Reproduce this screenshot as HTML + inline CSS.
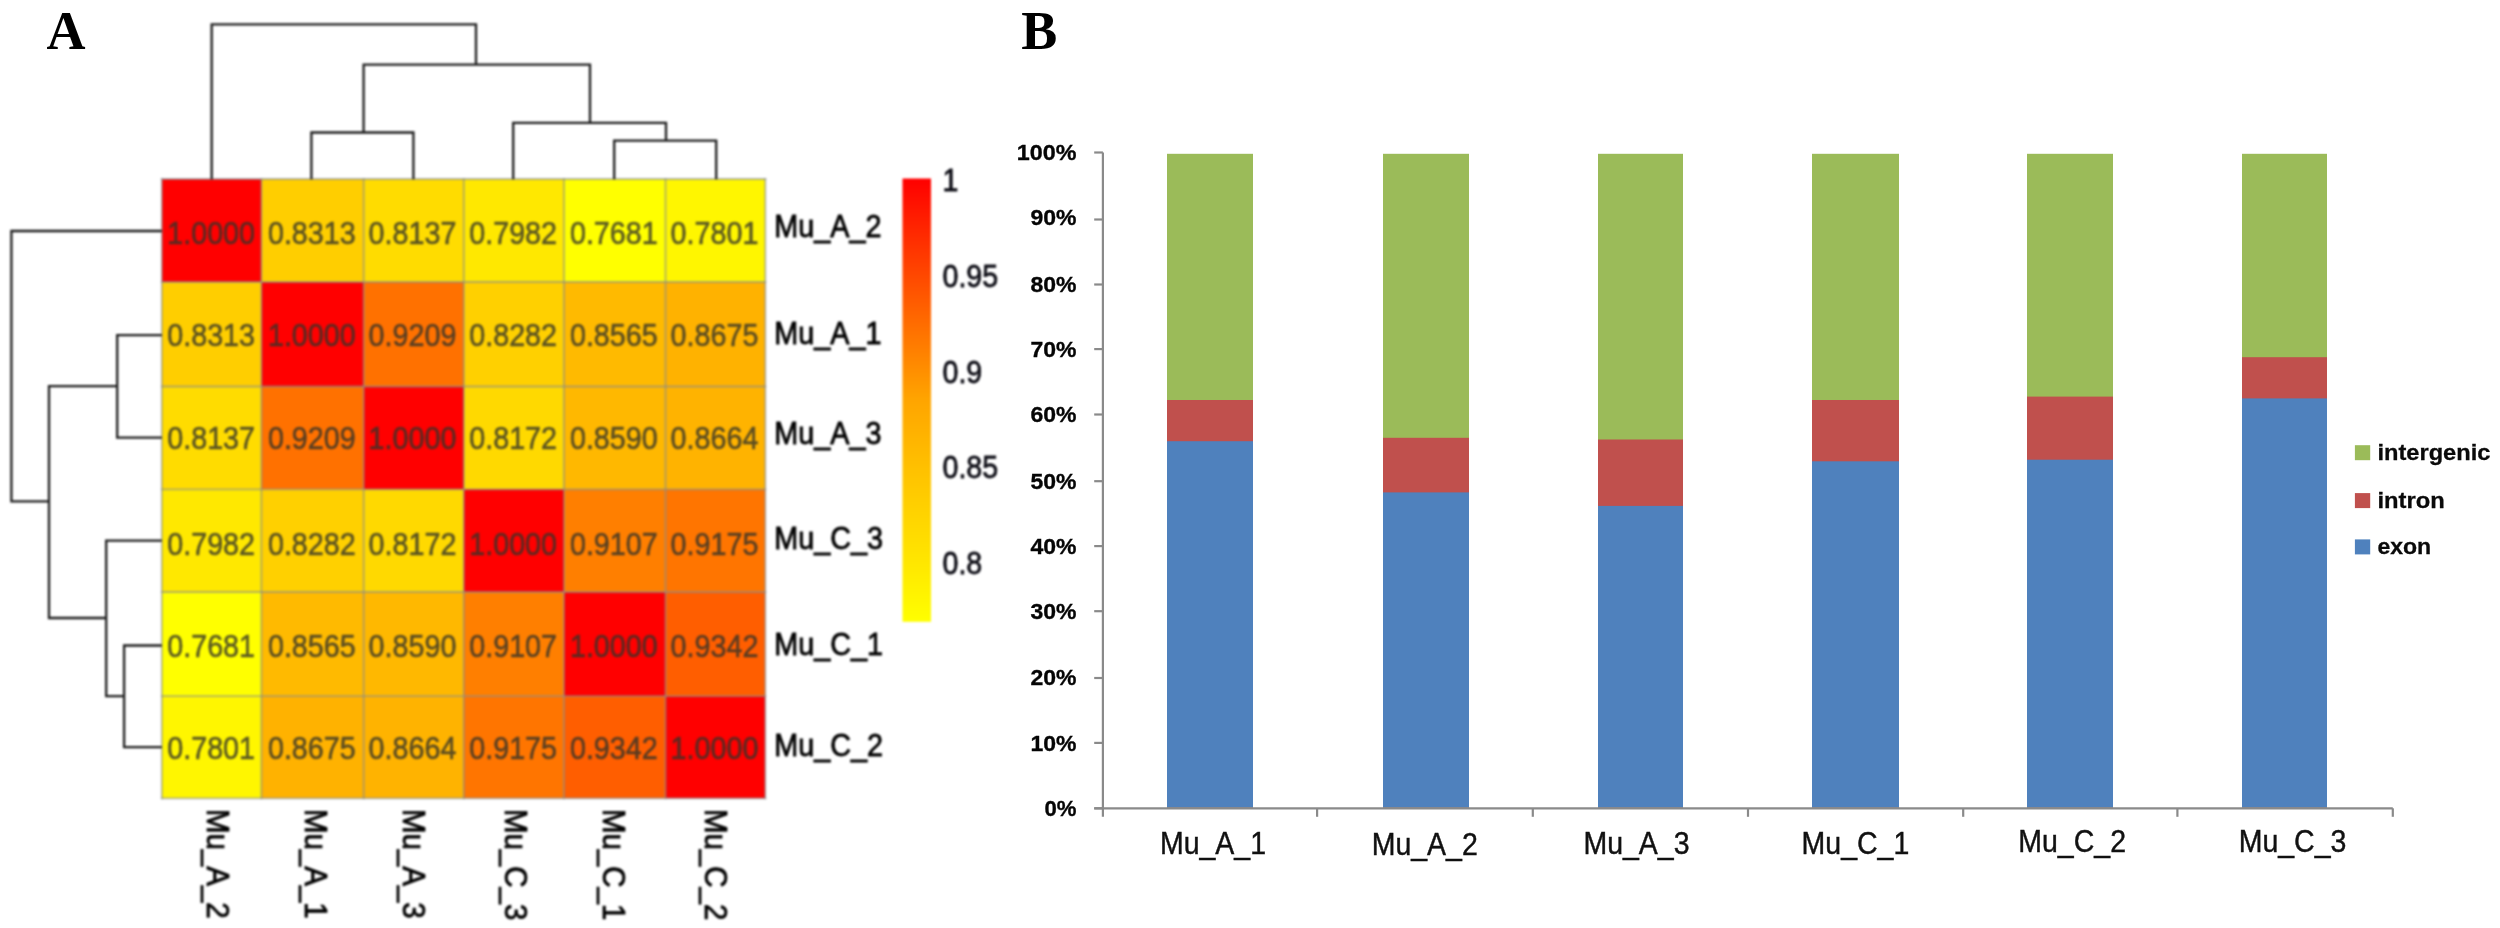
<!DOCTYPE html>
<html lang="en">
<head>
<meta charset="utf-8">
<title>Figure</title>
<style>
html,body{margin:0;padding:0;background:#fff;}
body{width:2500px;height:928px;overflow:hidden;}
svg{display:block;}
</style>
</head>
<body>
<svg width="2500" height="928" viewBox="0 0 2500 928">
<defs><filter id="soft" x="0" y="0" width="100%" height="100%" filterUnits="userSpaceOnUse" color-interpolation-filters="sRGB"><feGaussianBlur stdDeviation="0.8"/></filter><filter id="softB" x="0" y="0" width="100%" height="100%" filterUnits="userSpaceOnUse" color-interpolation-filters="sRGB"><feGaussianBlur stdDeviation="0.5"/></filter></defs>
<g filter="url(#soft)">
<rect x="0" y="0" width="2500" height="928" fill="#ffffff"/>
<g id="heatmap">
<rect x="161.80" y="179.00" width="100.20" height="103.60" fill="#ff0000"/>
<rect x="261.40" y="179.00" width="102.90" height="103.60" fill="#ffce00"/>
<rect x="363.70" y="179.00" width="100.70" height="103.60" fill="#ffdc00"/>
<rect x="463.80" y="179.00" width="100.80" height="103.60" fill="#ffe800"/>
<rect x="564.00" y="179.00" width="102.10" height="103.60" fill="#ffff00"/>
<rect x="665.50" y="179.00" width="99.80" height="103.60" fill="#fff600"/>
<rect x="161.80" y="282.00" width="100.20" height="105.10" fill="#ffce00"/>
<rect x="261.40" y="282.00" width="102.90" height="105.10" fill="#ff0000"/>
<rect x="363.70" y="282.00" width="100.70" height="105.10" fill="#ff7100"/>
<rect x="463.80" y="282.00" width="100.80" height="105.10" fill="#ffd000"/>
<rect x="564.00" y="282.00" width="102.10" height="105.10" fill="#ffba00"/>
<rect x="665.50" y="282.00" width="99.80" height="105.10" fill="#ffb200"/>
<rect x="161.80" y="386.50" width="100.20" height="103.40" fill="#ffdc00"/>
<rect x="261.40" y="386.50" width="102.90" height="103.40" fill="#ff7100"/>
<rect x="363.70" y="386.50" width="100.70" height="103.40" fill="#ff0000"/>
<rect x="463.80" y="386.50" width="100.80" height="103.40" fill="#ffd900"/>
<rect x="564.00" y="386.50" width="102.10" height="103.40" fill="#ffb800"/>
<rect x="665.50" y="386.50" width="99.80" height="103.40" fill="#ffb300"/>
<rect x="161.80" y="489.30" width="100.20" height="103.30" fill="#ffe800"/>
<rect x="261.40" y="489.30" width="102.90" height="103.30" fill="#ffd000"/>
<rect x="363.70" y="489.30" width="100.70" height="103.30" fill="#ffd900"/>
<rect x="463.80" y="489.30" width="100.80" height="103.30" fill="#ff0000"/>
<rect x="564.00" y="489.30" width="102.10" height="103.30" fill="#ff7f00"/>
<rect x="665.50" y="489.30" width="99.80" height="103.30" fill="#ff7500"/>
<rect x="161.80" y="592.00" width="100.20" height="104.80" fill="#ffff00"/>
<rect x="261.40" y="592.00" width="102.90" height="104.80" fill="#ffba00"/>
<rect x="363.70" y="592.00" width="100.70" height="104.80" fill="#ffb800"/>
<rect x="463.80" y="592.00" width="100.80" height="104.80" fill="#ff7f00"/>
<rect x="564.00" y="592.00" width="102.10" height="104.80" fill="#ff0000"/>
<rect x="665.50" y="592.00" width="99.80" height="104.80" fill="#ff5e00"/>
<rect x="161.80" y="696.20" width="100.20" height="102.10" fill="#fff600"/>
<rect x="261.40" y="696.20" width="102.90" height="102.10" fill="#ffb200"/>
<rect x="363.70" y="696.20" width="100.70" height="102.10" fill="#ffb300"/>
<rect x="463.80" y="696.20" width="100.80" height="102.10" fill="#ff7500"/>
<rect x="564.00" y="696.20" width="102.10" height="102.10" fill="#ff5e00"/>
<rect x="665.50" y="696.20" width="99.80" height="102.10" fill="#ff0000"/>
<g stroke="#878c90" stroke-opacity="0.62" stroke-width="1.8" fill="none">
<path d="M161.80 178.10 V799.20"/>
<path d="M261.40 178.10 V799.20"/>
<path d="M363.70 178.10 V799.20"/>
<path d="M463.80 178.10 V799.20"/>
<path d="M564.00 178.10 V799.20"/>
<path d="M665.50 178.10 V799.20"/>
<path d="M765.30 178.10 V799.20"/>
<path d="M160.90 179.00 H766.20"/>
<path d="M160.90 282.00 H766.20"/>
<path d="M160.90 386.50 H766.20"/>
<path d="M160.90 489.30 H766.20"/>
<path d="M160.90 592.00 H766.20"/>
<path d="M160.90 696.20 H766.20"/>
<path d="M160.90 798.30 H766.20"/>
</g>
</g>
<g id="cellnums" font-family="'Liberation Sans', Arial, sans-serif" font-size="28.7" fill="#34342a" stroke="#34342a" stroke-width="0.6" opacity="0.8" text-anchor="middle">
<text transform="translate(211.13,243.91) scale(1,1.090)">1.0000</text>
<text transform="translate(311.80,243.91) scale(1,1.090)">0.8313</text>
<text transform="translate(412.47,243.91) scale(1,1.090)">0.8137</text>
<text transform="translate(513.13,243.91) scale(1,1.090)">0.7982</text>
<text transform="translate(613.80,243.91) scale(1,1.090)">0.7681</text>
<text transform="translate(714.47,243.91) scale(1,1.090)">0.7801</text>
<text transform="translate(211.13,346.02) scale(1,1.090)">0.8313</text>
<text transform="translate(311.80,346.02) scale(1,1.090)">1.0000</text>
<text transform="translate(412.47,346.02) scale(1,1.090)">0.9209</text>
<text transform="translate(513.13,346.02) scale(1,1.090)">0.8282</text>
<text transform="translate(613.80,346.02) scale(1,1.090)">0.8565</text>
<text transform="translate(714.47,346.02) scale(1,1.090)">0.8675</text>
<text transform="translate(211.13,449.14) scale(1,1.090)">0.8137</text>
<text transform="translate(311.80,449.14) scale(1,1.090)">0.9209</text>
<text transform="translate(412.47,449.14) scale(1,1.090)">1.0000</text>
<text transform="translate(513.13,449.14) scale(1,1.090)">0.8172</text>
<text transform="translate(613.80,449.14) scale(1,1.090)">0.8590</text>
<text transform="translate(714.47,449.14) scale(1,1.090)">0.8664</text>
<text transform="translate(211.13,554.56) scale(1,1.090)">0.7982</text>
<text transform="translate(311.80,554.56) scale(1,1.090)">0.8282</text>
<text transform="translate(412.47,554.56) scale(1,1.090)">0.8172</text>
<text transform="translate(513.13,554.56) scale(1,1.090)">1.0000</text>
<text transform="translate(613.80,554.56) scale(1,1.090)">0.9107</text>
<text transform="translate(714.47,554.56) scale(1,1.090)">0.9175</text>
<text transform="translate(211.13,656.67) scale(1,1.090)">0.7681</text>
<text transform="translate(311.80,656.67) scale(1,1.090)">0.8565</text>
<text transform="translate(412.47,656.67) scale(1,1.090)">0.8590</text>
<text transform="translate(513.13,656.67) scale(1,1.090)">0.9107</text>
<text transform="translate(613.80,656.67) scale(1,1.090)">1.0000</text>
<text transform="translate(714.47,656.67) scale(1,1.090)">0.9342</text>
<text transform="translate(211.13,759.39) scale(1,1.090)">0.7801</text>
<text transform="translate(311.80,759.39) scale(1,1.090)">0.8675</text>
<text transform="translate(412.47,759.39) scale(1,1.090)">0.8664</text>
<text transform="translate(513.13,759.39) scale(1,1.090)">0.9175</text>
<text transform="translate(613.80,759.39) scale(1,1.090)">0.9342</text>
<text transform="translate(714.47,759.39) scale(1,1.090)">1.0000</text>
</g>
<g id="rowlabels" font-family="'Liberation Sans', Arial, sans-serif" font-size="28.8" fill="#000" stroke="#000" stroke-width="0.75">
<text transform="translate(774.3,237.40) scale(1,1.090)">Mu_A_2</text>
<text transform="translate(774.3,344.30) scale(1,1.090)">Mu_A_1</text>
<text transform="translate(774.3,444.10) scale(1,1.090)">Mu_A_3</text>
<text transform="translate(774.3,548.80) scale(1,1.090)">Mu_C_3</text>
<text transform="translate(774.3,655.00) scale(1,1.090)">Mu_C_1</text>
<text transform="translate(774.3,755.50) scale(1,1.090)">Mu_C_2</text>
</g>
<g id="collabels" font-family="'Liberation Sans', Arial, sans-serif" font-size="28.8" fill="#000" stroke="#000" stroke-width="0.75">
<text transform="translate(206.50,808.9) rotate(90) scale(1.024,1.06)">Mu_A_2</text>
<text transform="translate(305.00,808.9) rotate(90) scale(1.024,1.06)">Mu_A_1</text>
<text transform="translate(402.80,808.9) rotate(90) scale(1.024,1.06)">Mu_A_3</text>
<text transform="translate(505.00,808.9) rotate(90) scale(1.024,1.06)">Mu_C_3</text>
<text transform="translate(602.70,808.9) rotate(90) scale(1.024,1.06)">Mu_C_1</text>
<text transform="translate(704.90,808.9) rotate(90) scale(1.024,1.06)">Mu_C_2</text>
</g>
<g id="dendro" fill="none" stroke="#1c1c1c" stroke-width="2.3" stroke-linejoin="miter">
<path d="M211.7 179.2 V24.3 H476 V64.6"/>
<path d="M363.6 132.5 V64.6 H590 V122.8"/>
<path d="M311.4 179.2 V132.5 H413.4 V179.2"/>
<path d="M513.2 179.2 V122.8 H666 V140.6"/>
<path d="M614.2 179.2 V140.6 H716.2 V179.2"/>
<path d="M161.8 231 H11.4 V501.4 H49"/>
<path d="M117.2 386.2 H49 V618 H106.2"/>
<path d="M161.8 335.2 H117.2 V437.6 H161.8"/>
<path d="M161.8 540.7 H106.2 V696.2 H124.1"/>
<path d="M161.8 645.5 H124.1 V747.2 H161.8"/>
</g>
<defs><linearGradient id="cb" x1="0" y1="0" x2="0" y2="1"><stop offset="0" stop-color="#ff0000"/><stop offset="0.5" stop-color="#ffa500"/><stop offset="1" stop-color="#ffff00"/></linearGradient></defs>
<rect x="902.5" y="178.5" width="28.5" height="443.3" fill="url(#cb)"/>
<g id="cblabels" font-family="'Liberation Sans', Arial, sans-serif" font-size="28.6" fill="#0c0c14" stroke="#0c0c14" stroke-width="0.7">
<text transform="translate(942.5,191.3) scale(1,1.090)">1</text>
<text transform="translate(942.5,286.6) scale(1,1.090)">0.95</text>
<text transform="translate(942.5,382.5) scale(1,1.090)">0.9</text>
<text transform="translate(942.5,478.0) scale(1,1.090)">0.85</text>
<text transform="translate(942.5,574.2) scale(1,1.090)">0.8</text>
</g>
</g><g filter="url(#softB)">
<g font-family="'Liberation Serif', 'Times New Roman', serif" font-weight="bold" font-size="54" fill="#000">
<text x="46.5" y="49.4">A</text>
<text x="1021.3" y="49.4">B</text>
</g>
<g id="bars">
<rect x="1167.0" y="153.8" width="86.0" height="653.8" fill="#9bbb59"/>
<rect x="1167.0" y="400.0" width="86.0" height="407.6" fill="#c0504d"/>
<rect x="1167.0" y="441.2" width="86.0" height="366.4" fill="#4f81bd"/>
<rect x="1383.0" y="153.8" width="86.0" height="653.8" fill="#9bbb59"/>
<rect x="1383.0" y="437.8" width="86.0" height="369.8" fill="#c0504d"/>
<rect x="1383.0" y="492.4" width="86.0" height="315.2" fill="#4f81bd"/>
<rect x="1598.0" y="153.8" width="85.0" height="653.8" fill="#9bbb59"/>
<rect x="1598.0" y="439.5" width="85.0" height="368.1" fill="#c0504d"/>
<rect x="1598.0" y="505.9" width="85.0" height="301.7" fill="#4f81bd"/>
<rect x="1812.0" y="153.8" width="87.0" height="653.8" fill="#9bbb59"/>
<rect x="1812.0" y="400.0" width="87.0" height="407.6" fill="#c0504d"/>
<rect x="1812.0" y="461.3" width="87.0" height="346.3" fill="#4f81bd"/>
<rect x="2027.0" y="153.8" width="86.0" height="653.8" fill="#9bbb59"/>
<rect x="2027.0" y="396.6" width="86.0" height="411.0" fill="#c0504d"/>
<rect x="2027.0" y="459.7" width="86.0" height="347.9" fill="#4f81bd"/>
<rect x="2242.0" y="153.8" width="85.0" height="653.8" fill="#9bbb59"/>
<rect x="2242.0" y="357.2" width="85.0" height="450.4" fill="#c0504d"/>
<rect x="2242.0" y="398.4" width="85.0" height="409.2" fill="#4f81bd"/>
</g>
<g id="axes" stroke="#8a8a8a" stroke-width="2.2" fill="none">
<path d="M1102.9 152.5 V816.8"/>
<path d="M1094.2 808.3 H2392.8"/>
<path d="M1094.2 808.3 H1102.9"/>
<path d="M1094.2 742.9 H1102.9"/>
<path d="M1094.2 678.0 H1102.9"/>
<path d="M1094.2 611.2 H1102.9"/>
<path d="M1094.2 546.1 H1102.9"/>
<path d="M1094.2 481.2 H1102.9"/>
<path d="M1094.2 414.5 H1102.9"/>
<path d="M1094.2 349.1 H1102.9"/>
<path d="M1094.2 284.5 H1102.9"/>
<path d="M1094.2 219.5 H1102.9"/>
<path d="M1094.2 152.5 H1102.9"/>
<path d="M1317.1 808.3 V816.8"/>
<path d="M1532.8 808.3 V816.8"/>
<path d="M1748.0 808.3 V816.8"/>
<path d="M1963.2 808.3 V816.8"/>
<path d="M2177.4 808.3 V816.8"/>
<path d="M2392.8 808.3 V816.8"/>
</g>
<g id="ylabels" font-family="'Liberation Sans', Arial, sans-serif" font-weight="bold" font-size="22.8" fill="#050505" stroke="#050505" stroke-width="0.35" text-anchor="end">
<text x="1076.4" y="815.6" textLength="32.0" lengthAdjust="spacingAndGlyphs">0%</text>
<text x="1076.4" y="751.0" textLength="46.0" lengthAdjust="spacingAndGlyphs">10%</text>
<text x="1076.4" y="684.5" textLength="46.0" lengthAdjust="spacingAndGlyphs">20%</text>
<text x="1076.4" y="618.8" textLength="46.0" lengthAdjust="spacingAndGlyphs">30%</text>
<text x="1076.4" y="554.0" textLength="46.0" lengthAdjust="spacingAndGlyphs">40%</text>
<text x="1076.4" y="488.8" textLength="46.0" lengthAdjust="spacingAndGlyphs">50%</text>
<text x="1076.4" y="422.0" textLength="46.0" lengthAdjust="spacingAndGlyphs">60%</text>
<text x="1076.4" y="356.8" textLength="46.0" lengthAdjust="spacingAndGlyphs">70%</text>
<text x="1076.4" y="291.6" textLength="46.0" lengthAdjust="spacingAndGlyphs">80%</text>
<text x="1076.4" y="225.0" textLength="46.0" lengthAdjust="spacingAndGlyphs">90%</text>
<text x="1076.4" y="160.4" textLength="59.6" lengthAdjust="spacingAndGlyphs">100%</text>
</g>
<g id="xlabels" font-family="'Liberation Sans', Arial, sans-serif" font-size="28.5" fill="#111" stroke="#111" stroke-width="0.4">
<text transform="translate(1159.9,853.6) scale(1,1.090)">Mu_A_1</text>
<text transform="translate(1371.7,854.6) scale(1,1.090)">Mu_A_2</text>
<text transform="translate(1583.4,853.9) scale(1,1.090)">Mu_A_3</text>
<text transform="translate(1801.6,853.6) scale(1,1.090)">Mu_C_1</text>
<text transform="translate(2018.3,852.4) scale(1,1.090)">Mu_C_2</text>
<text transform="translate(2238.7,851.7) scale(1,1.090)">Mu_C_3</text>
</g>
<g id="legend" font-family="'Liberation Sans', Arial, sans-serif" font-weight="bold" font-size="22.8" fill="#0a0a0a" stroke="#0a0a0a" stroke-width="0.3">
<rect x="2354.9" y="445.2" width="15.3" height="15" fill="#9bbb59" stroke="none"/>
<text x="2377.4" y="460.0" textLength="113.0" lengthAdjust="spacingAndGlyphs">intergenic</text>
<rect x="2354.9" y="493.1" width="15.3" height="15" fill="#c0504d" stroke="none"/>
<text x="2377.4" y="508.1" textLength="67.3" lengthAdjust="spacingAndGlyphs">intron</text>
<rect x="2354.9" y="539.4" width="15.3" height="15" fill="#4f81bd" stroke="none"/>
<text x="2377.4" y="554.3" textLength="53.8" lengthAdjust="spacingAndGlyphs">exon</text>
</g>
</g>
</svg>
</body>
</html>
